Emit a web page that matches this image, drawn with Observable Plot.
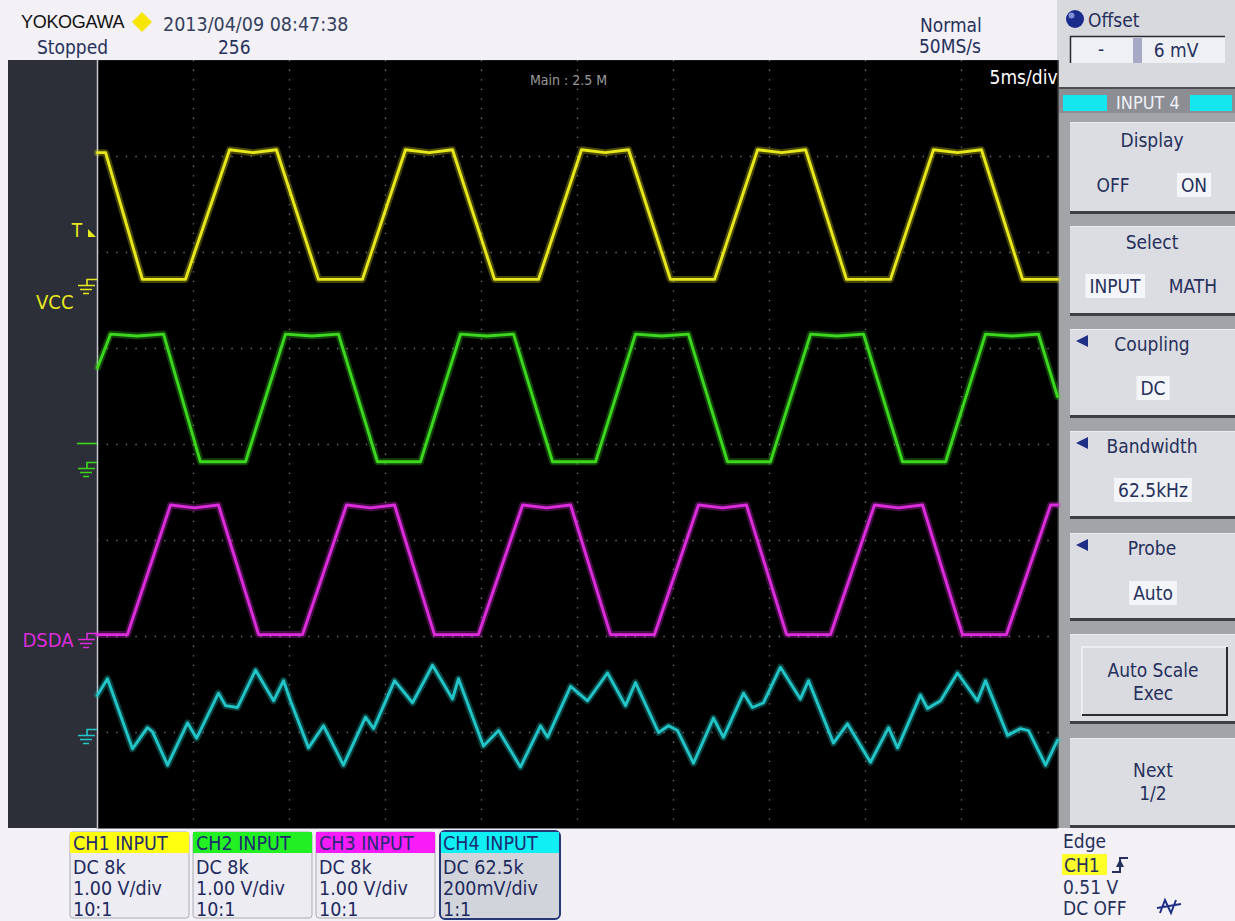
<!DOCTYPE html>
<html><head><meta charset="utf-8">
<script src="https://cdn.jsdelivr.net/npm/d3@7"></script>
<script src="https://cdn.jsdelivr.net/npm/@observablehq/plot@0.6"></script>
<style>
html,body{margin:0;padding:0;background:#f3f1f5;}
#wrap{position:relative;width:1235px;height:921px;overflow:hidden;font-family:"DejaVu Sans Condensed","DejaVu Sans",sans-serif;font-stretch:condensed;}
#chrome{position:absolute;left:0;top:0;}
#plot{position:absolute;left:8px;top:60px;}
#plot svg{display:block;}
</style></head><body>
<div id="wrap"><svg id="chrome" width="1235" height="921"></svg><div id="plot"></div></div>
<script>
// ---------- data (time in ms, amplitude in screen divisions) ----------
const xDomain = [0, 50];            // 5 ms/div x 10 div
const yDomain = [-4, 4];            // 8 vertical divisions
const xDivs = [5, 10, 15, 20, 25, 30, 35, 40, 45];
const yDivs = [-3, -2, -1, 0, 1, 2, 3];

const channelNames = ["CH1", "CH2", "CH3", "CH4"];
const channelColors = ["#e8e81c", "#3cd81e", "#dc2cdc", "#22c6c8"];

const ch1T = [0, 0.42, 2.34, 4.58, 6.88, 8.10, 9.32, 11.51, 13.80, 16.04, 17.27, 18.49, 20.68, 22.97, 25.21, 26.44, 27.66, 29.84, 32.14, 34.38, 35.63, 36.88, 39.01, 41.30, 43.54, 44.79, 46.04, 48.18, 50.00];
const ch1V = [3.04, 3.04, 1.72, 1.72, 3.07, 3.04, 3.07, 1.72, 1.72, 3.07, 3.04, 3.07, 1.72, 1.72, 3.07, 3.04, 3.07, 1.72, 1.72, 3.07, 3.04, 3.07, 1.72, 1.72, 3.07, 3.04, 3.07, 1.72, 1.72];

const ch2T = [0, 0.68, 2.06, 3.44, 5.36, 7.71, 9.79, 11.17, 12.55, 14.58, 16.82, 18.91, 20.29, 21.67, 23.70, 25.94, 28.02, 29.40, 30.78, 32.81, 35.05, 37.14, 38.52, 39.90, 41.93, 44.17, 46.25, 47.63, 49.01, 50.00];
const ch2V = [0.80, 1.15, 1.13, 1.15, -0.18, -0.18, 1.15, 1.13, 1.15, -0.18, -0.18, 1.15, 1.13, 1.15, -0.18, -0.18, 1.15, 1.13, 1.15, -0.18, -0.18, 1.15, 1.13, 1.15, -0.18, -0.18, 1.15, 1.13, 1.15, 0.50];

const ch3T = [0, 1.56, 3.80, 5.05, 6.30, 8.39, 10.68, 12.97, 14.22, 15.47, 17.55, 19.84, 22.14, 23.39, 24.64, 26.72, 29.01, 31.30, 32.55, 33.80, 35.89, 38.18, 40.47, 41.72, 42.97, 45.05, 47.34, 49.64, 50.00];
const ch3V = [-1.98, -1.98, -0.63, -0.66, -0.63, -1.98, -1.98, -0.63, -0.66, -0.63, -1.98, -1.98, -0.63, -0.66, -0.63, -1.98, -1.98, -0.63, -0.66, -0.63, -1.98, -1.98, -0.63, -0.66, -0.63, -1.98, -1.98, -0.63, -0.63];

const ch4T = [0, 0.52, 1.82, 2.60, 2.86, 3.65, 4.69, 5.16, 6.30, 6.67, 7.29, 8.23, 9.17, 9.69, 10.05, 10.99, 11.77, 12.81, 13.96, 14.38, 15.47, 16.41, 17.45, 18.49, 18.80, 20.10, 20.89, 22.03, 23.07, 23.44, 24.64, 25.52, 26.56, 27.50, 28.02, 29.22, 29.74, 30.21, 31.04, 32.08, 32.60, 33.65, 34.11, 34.69, 35.57, 36.61, 37.03, 38.33, 39.06, 40.26, 41.20, 41.67, 42.86, 43.23, 43.91, 44.79, 45.83, 46.25, 47.40, 48.07, 48.49, 49.38, 50.00];
const ch4V = [-2.61, -2.44, -3.17, -2.95, -2.99, -3.34, -2.90, -3.06, -2.59, -2.72, -2.74, -2.35, -2.67, -2.46, -2.67, -3.16, -2.93, -3.34, -2.84, -2.96, -2.46, -2.69, -2.30, -2.65, -2.44, -3.14, -2.98, -3.36, -2.93, -3.05, -2.52, -2.67, -2.38, -2.72, -2.48, -3.00, -2.93, -2.98, -3.32, -2.85, -3.05, -2.59, -2.74, -2.69, -2.32, -2.65, -2.46, -3.11, -2.91, -3.31, -2.95, -3.16, -2.61, -2.75, -2.67, -2.38, -2.67, -2.46, -3.03, -2.96, -2.98, -3.34, -3.08];

// channel ground levels (div), trigger level, and left-strip labels
const groundLevels = [1.72, -0.19, -1.97, -2.97];
const ch2PosLevel = 0.01;
const triggerLevel = 2.23;
const stripLabels = ["VCC", "DSDA"];
const stripLabelLevels = [1.48, -2.04];
const stripLabelChannels = ["CH1", "CH3"];

const mainLabel = ["Main : 2.5 M"];
const timebaseLabel = ["5ms/div"];

// ---------- build rows ----------
const series = [[ch1T, ch1V], [ch2T, ch2V], [ch3T, ch3V], [ch4T, ch4V]];
const rows = series.flatMap(([T, V], k) => T.map((t, i) => ({ch: channelNames[k], t, v: V[i]})));
const labels = stripLabels.map((s, i) => ({s, lv: stripLabelLevels[i], ch: stripLabelChannels[i]}));

const FONT = '"DejaVu Sans Condensed","DejaVu Sans",sans-serif';

const plot = Plot.plot({
  width: 1049, height: 768,
  marginLeft: 89, marginRight: 0, marginTop: 0, marginBottom: 0,
  x: {domain: xDomain, axis: null},
  y: {domain: yDomain, axis: null},
  color: {domain: channelNames, range: channelColors},
  style: {background: "#2c2f37", fontFamily: FONT, overflow: "visible"},
  marks: [
    Plot.frame({fill: "#000", stroke: null}),
    Plot.ruleX(xDivs, {stroke: "#777", strokeWidth: 1.3, strokeDasharray: "1.3 8.3"}),
    Plot.ruleY(yDivs, {stroke: "#777", strokeWidth: 1.3, strokeDasharray: "1.3 8.3"}),
    Plot.ruleX([xDomain[0]], {stroke: "#c4c5cd", strokeWidth: 1.5}),
    Plot.line(rows, {x: "t", y: "v", z: "ch", stroke: "ch", strokeWidth: 7, strokeOpacity: 0.3, strokeLinejoin: "round"}),
    Plot.line(rows, {x: "t", y: "v", z: "ch", stroke: "ch", strokeWidth: 2.9, strokeLinejoin: "round"}),
    Plot.text(labels, {x: xDomain[0], y: "lv", text: "s", fill: "ch", dx: -24, textAnchor: "end", fontSize: 20}),
    Plot.text(mainLabel, {frameAnchor: "top", dx: -9, dy: 15, fill: "#9a9a9a", fontSize: 14}),
    Plot.text(timebaseLabel, {frameAnchor: "top-right", textAnchor: "end", dy: 10, fill: "#ffffff", fontSize: 19})
  ]
});
document.getElementById("plot").appendChild(plot);

// ground symbols / markers in the left strip, placed through the y scale
const ys = plot.scale("y");
const psvg = d3.select(plot);
const X0 = 89;
const g = psvg.append("g").attr("fill", "none").attr("stroke-width", 1.6);
groundLevels.forEach((lv, i) => {
  const yy = Math.round(ys.apply(lv)) + 0.5;
  const c = channelColors[i];
  g.append("path").attr("stroke", c).attr("d",
    `M${X0},${yy}H${X0-10}V${yy+6}M${X0-19},${yy+6}H${X0-2}M${X0-17},${yy+10}H${X0-5}M${X0-14},${yy+14}H${X0-8}`);
});
{
  const yy = Math.round(ys.apply(ch2PosLevel)) + 0.5;
  g.append("path").attr("stroke", channelColors[1]).attr("d", `M${X0-20},${yy}H${X0}`);
  const ty = ys.apply(triggerLevel);
  psvg.append("text").attr("x", X0 - 20).attr("y", ty + 7).text("T")
    .attr("fill", channelColors[0]).attr("font-size", 19).attr("font-family", FONT);
  psvg.append("path").attr("fill", channelColors[0])
    .attr("d", `M${X0-9},${ty+7}L${X0-1},${ty+7}L${X0-9},${ty-1}Z`);
}

// ---------- instrument chrome ----------
const chrome = d3.select("#chrome");
const NAVY = "#26305c";
function txt(x, y, s, o = {}) {
  return chrome.append("text").attr("x", x).attr("y", y).text(s)
    .attr("font-size", o.size || 19).attr("fill", o.fill || NAVY)
    .attr("text-anchor", o.anchor || "start")
    .attr("font-family", o.family || FONT)
    .attr("letter-spacing", o.ls || 0);
}
function rect(x, y, w, h, fill, o = {}) {
  return chrome.append("rect").attr("x", x).attr("y", y).attr("width", w).attr("height", h)
    .attr("fill", fill).attr("stroke", o.stroke || "none").attr("stroke-width", o.sw || 1)
    .attr("rx", o.rx || 0);
}
function hl(t, padX = 4) {
  const b = t.node().getBBox();
  chrome.insert("rect", () => t.node()).attr("x", b.x - padX).attr("y", b.y - 1)
    .attr("width", b.width + 2 * padX).attr("height", b.height + 2).attr("fill", "#f4f5f8");
}

rect(0, 0, 1235, 921, "#f3f1f5");
// header
txt(21, 28, "YOKOGAWA", {family: '"Liberation Sans",Arial,sans-serif', size: 18, fill: "#111", ls: -0.3});
chrome.append("polygon").attr("points", "142,12 152,22 142,32 132,22").attr("fill", "#f6e600");
txt(163, 31, "2013/04/09 08:47:38", {size: 19.5, fill: "#33405f"});
txt(37, 54, "Stopped");
txt(218, 54, "256");
txt(920, 32, "Normal");
txt(919, 53, "50MS/s");

// right panel
rect(1057, 0, 178, 88, "#d8d9dd");
rect(1057, 88, 178, 740, "#a3a4a8");
chrome.append("line").attr("x1", 1058).attr("x2", 1058).attr("y1", 60).attr("y2", 828).attr("stroke", "#4b4c51").attr("stroke-width", 2);
chrome.append("circle").attr("cx", 1075).attr("cy", 19).attr("r", 9).attr("fill", "#1b2b8c");
chrome.append("circle").attr("cx", 1071.5).attr("cy", 15.5).attr("r", 3).attr("fill", "#9aa8e8").attr("opacity", 0.8);
txt(1088, 27, "Offset");
rect(1070, 36, 155, 27, "#eef0f4");
chrome.append("path").attr("d", "M1070.5,63V36.5H1225").attr("stroke", "#2a2a2e").attr("stroke-width", 1.5).attr("fill", "none");
rect(1133, 38, 9, 25, "#a6aac6");
txt(1101, 56, "-", {anchor: "middle"});
txt(1176, 57, "6 mV", {anchor: "middle"});

rect(1059, 88, 176, 25, "#8d8e93");
chrome.append("line").attr("x1", 1057).attr("x2", 1235).attr("y1", 88).attr("y2", 88).attr("stroke", "#4e4f54").attr("stroke-width", 2);
rect(1063, 95, 44, 16, "#14e8ee");
rect(1190, 95, 42, 16, "#14e8ee");
txt(1148, 109, "INPUT 4", {anchor: "middle", size: 18, fill: "#eef0f8"});

const buttons = [
  {y: 122, h: 92, title: "Display", tY: 147, opts: [["OFF", 1113, false], ["ON", 1194, true]], oY: 192},
  {y: 226, h: 90, title: "Select", tY: 249, opts: [["INPUT", 1115, true], ["MATH", 1193, false]], oY: 293},
  {y: 329, h: 89, title: "Coupling", tri: true, tY: 351, opts: [["DC", 1153, true]], oY: 395},
  {y: 431, h: 88, title: "Bandwidth", tri: true, tY: 453, opts: [["62.5kHz", 1153, true]], oY: 497},
  {y: 533, h: 88, title: "Probe", tri: true, tY: 555, opts: [["Auto", 1153, true]], oY: 600},
  {y: 634, h: 90, raised: true, lines: [["Auto Scale", 677], ["Exec", 700]]},
  {y: 738, h: 90, lines: [["Next", 777], ["1/2", 800]]}
];
for (const b of buttons) {
  rect(1070, b.y, 165, b.h, "#dcdde2");
  rect(1070, b.y + b.h - 3, 165, 3, "#3d3f45");
  chrome.append("line").attr("x1", 1070).attr("x2", 1235).attr("y1", b.y + 0.5).attr("y2", b.y + 0.5).attr("stroke", "#eceef2");
  if (b.title) txt(1152, b.tY, b.title, {anchor: "middle"});
  if (b.tri) chrome.append("polygon").attr("points", `1076,${b.tY - 10} 1088,${b.tY - 16} 1088,${b.tY - 4}`).attr("fill", "#1f2f86");
  if (b.opts) for (const [s, x, h] of b.opts) { const t = txt(x, b.oY, s, {anchor: "middle"}); if (h) hl(t); }
  if (b.raised) {
    rect(1082, b.y + 13, 145, 68, "#dadbe0");
    chrome.append("path").attr("d", `M1082,${b.y + 81}V${b.y + 13}H1227`).attr("stroke", "#f2f3f6").attr("stroke-width", 1.5).attr("fill", "none");
    chrome.append("path").attr("d", `M1082,${b.y + 81}H1227V${b.y + 13}`).attr("stroke", "#2a2c32").attr("stroke-width", 2).attr("fill", "none");
  }
  if (b.lines) for (const [s, yy] of b.lines) txt(1153, yy, s, {anchor: "middle"});
}

// bottom channel boxes
const boxes = [
  {x: 70, head: "CH1 INPUT", body: ["DC 8k", "1.00 V/div", "10:1"]},
  {x: 193, head: "CH2 INPUT", body: ["DC 8k", "1.00 V/div", "10:1"]},
  {x: 316, head: "CH3 INPUT", body: ["DC 8k", "1.00 V/div", "10:1"]},
  {x: 440, head: "CH4 INPUT", body: ["DC 62.5k", "200mV/div", "1:1"], sel: true}
];
const headColors = ["#ffff10", "#22f022", "#f81cf8", "#10f0f4"];
boxes.forEach((b, i) => {
  if (b.sel) {
    rect(b.x, 831, 120, 88, "#d2d4db", {stroke: "#263877", sw: 2, rx: 5});
    rect(b.x + 1, 832, 118, 21, headColors[i]);
  } else {
    rect(b.x, 832, 119, 86, "#edecf2", {stroke: "#acacb4", sw: 1, rx: 3});
    rect(b.x, 832, 119, 21, headColors[i]);
  }
  txt(b.x + 3, 850, b.head, {size: 19.5, fill: "#1e2b70"});
  b.body.forEach((s, j) => txt(b.x + 3, 874 + 21 * j, s, {size: 19.5, fill: "#1e2a5e"}));
});

// trigger info
txt(1063, 848, "Edge");
rect(1062, 854, 45, 21, "#ffff2a");
txt(1064, 872, "CH1");
chrome.append("path").attr("d", "M1112,872H1120V858H1128").attr("stroke", NAVY).attr("stroke-width", 2).attr("fill", "none");
chrome.append("polygon").attr("points", "1116,867 1124,867 1120,859").attr("fill", NAVY);
txt(1063, 894, "0.51 V");
txt(1063, 915, "DC OFF");
chrome.append("path").attr("d", "M1160,913L1165,900L1171,913L1176,900M1157,908L1181,904").attr("stroke", "#1f2f86").attr("stroke-width", 2).attr("fill", "none");
</script>
</body></html>
